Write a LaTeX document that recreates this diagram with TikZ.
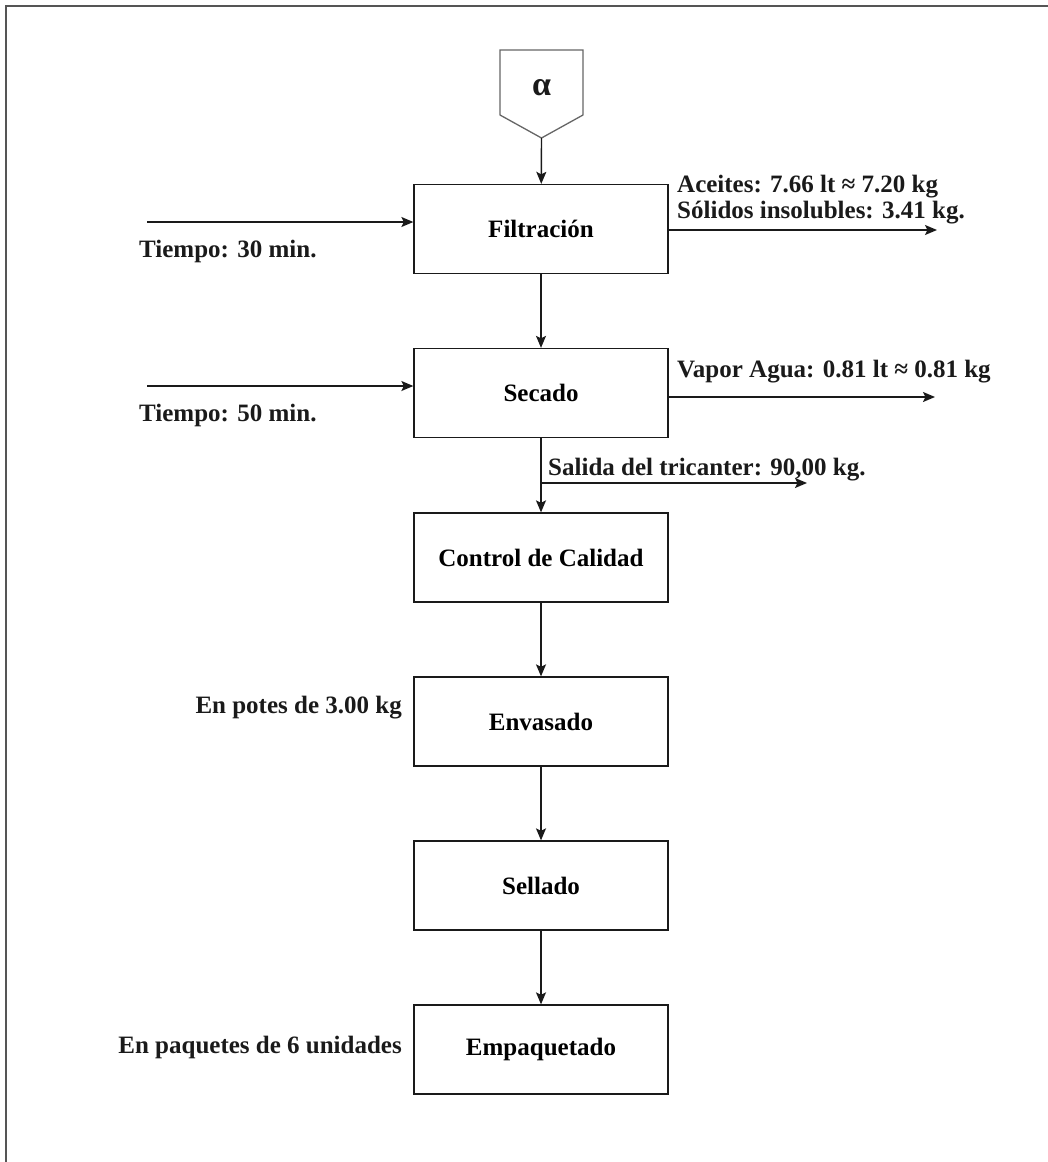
\documentclass[tikz,border=0pt]{standalone}
\usepackage{fontspec}
\setmainfont{Liberation Serif}
\usetikzlibrary{arrows.meta, calc}
\definecolor{ink}{HTML}{1A1A1A}
\definecolor{framegray}{HTML}{555555}
\definecolor{edgegray}{HTML}{666666}

\begin{document}
\begin{tikzpicture}[x=1pt, y=-1pt,
    stage/.style={draw=ink, line width=1.3pt, minimum width=254pt, minimum height=89pt,
                  inner sep=0pt, font=\fontsize{25}{26}\selectfont\bfseries},
    note/.style={inner sep=0pt, font=\fontsize{25}{26}\selectfont\bfseries, align=left, text=ink},
    flow/.style={-{Stealth[length=12pt, width=10pt, inset=2.5pt]}, line width=1.4pt, ink}]
  \useasboundingbox (0,0) rectangle (1048,1162);
  % ---- frame, cut off at right and bottom ----
  \draw[framegray, line width=2pt] (5,6) -- (1048,6);
  \draw[framegray, line width=1.2pt] (6,6) -- (6,1162);
  % ---- off-page connector ----
  \draw[edgegray, line width=1.3pt, fill=white] (500,50) -- (583,50) -- (583,115)
        -- (541.5,138) coordinate (alphatip) -- (500,115) -- cycle;
  \node[font=\fontsize{34}{34}\selectfont\bfseries, text=ink] (alpha) at (541.5,88) {α};
  % ---- process stages ----
  \node[stage] (filtr) at (541,229) {Filtración};
  \node[stage] (secado) at (541,393) {Secado};
  \node[stage] (control) at (541,557.5) {Control de Calidad};
  \node[stage] (envas) at (541,721.5) {Envasado};
  \node[stage] (sellado) at (541,885.5) {Sellado};
  \node[stage] (empaq) at (541,1049.5) {Empaquetado};
  % ---- main line ----
  \draw[flow] (alphatip) -- (filtr);
  \draw[flow] (filtr) -- (secado);
  \draw[flow] (secado) -- (control);
  \draw[flow] (control) -- (envas);
  \draw[flow] (envas) -- (sellado);
  \draw[flow] (sellado) -- (empaq);
  % ---- inputs ----
  \coordinate (t1) at (147,222);
  \draw[flow] (t1) -- (t1 -| filtr.west);
  \node[note, anchor=west] (t1lab) at (139,251) {Tiempo: 30 min.};
  \coordinate (t2) at (147,386);
  \draw[flow] (t2) -- (t2 -| secado.west);
  \node[note, anchor=west] (t2lab) at (139,415) {Tiempo: 50 min.};
  % ---- outputs ----
  \coordinate (o1) at (937,230);
  \draw[flow] (o1 -| filtr.east) -- (o1);
  \node[note, anchor=west] (o1lab) at (677,200)
        {Aceites: 7.66 lt ≈ 7.20 kg\\Sólidos insolubles: 3.41 kg.};
  \coordinate (o2) at (935,397);
  \draw[flow] (o2 -| secado.east) -- (o2);
  \node[note, anchor=west] (o2lab) at (677,372) {Vapor Agua: 0.81 lt ≈ 0.81 kg};
  \coordinate (salida) at (541,483);
  \coordinate (o3) at (807,483);
  \draw[flow] (salida) -- (o3);
  \node[note, anchor=west] (o3lab) at (548,470) {Salida del tricanter: 90,00 kg.};
  % ---- notes ----
  \node[note, anchor=east] (potes) at (402,708) {En potes de 3.00 kg};
  \node[note, anchor=east] (paquetes) at (402,1047) {En paquetes de 6 unidades};
\end{tikzpicture}
\end{document}
